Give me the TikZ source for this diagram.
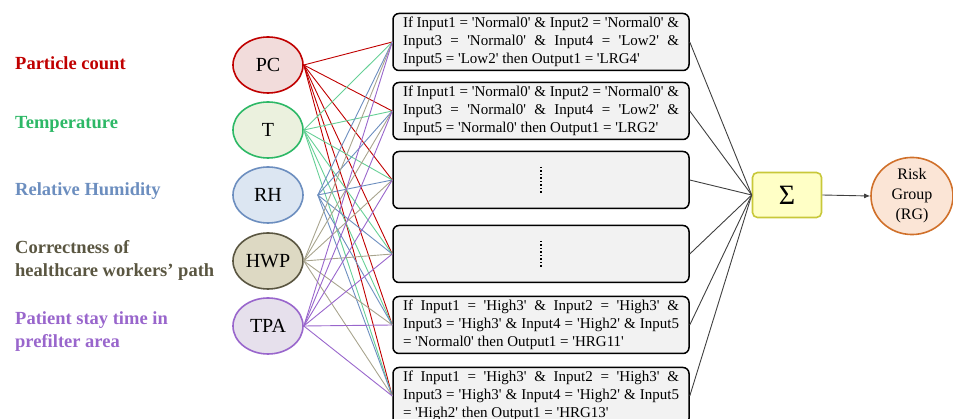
\documentclass[tikz,border=0pt]{standalone}
\usepackage{fontspec}
\setmainfont{Liberation Serif}
\newfontfamily\rulefont{Liberation Serif}[Ligatures=TeXOff]
\usetikzlibrary{shapes.geometric, arrows.meta}

\definecolor{pcred}{HTML}{C00000}
\definecolor{pcfill}{HTML}{F2DCDB}
\definecolor{tgreen}{HTML}{2DB866}
\definecolor{tedge}{HTML}{66D096}
\definecolor{tfill}{HTML}{EBF1DE}
\definecolor{rhblue}{HTML}{6C8EBF}
\definecolor{rhfill}{HTML}{DCE6F2}
\definecolor{hwpolive}{HTML}{5A5641}
\definecolor{hwpedge}{HTML}{A8A48E}
\definecolor{hwpfill}{HTML}{DDD9C3}
\definecolor{tpapurple}{HTML}{9966CC}
\definecolor{tpafill}{HTML}{E6E0EC}
\definecolor{boxgray}{HTML}{F2F2F2}
\definecolor{sumfill}{HTML}{FFFFC6}
\definecolor{sumline}{HTML}{C8C83A}
\definecolor{rgfill}{HTML}{FBE5D6}
\definecolor{rgline}{HTML}{D0702A}

\newcommand{\rulefmt}{\rulefont\fontsize{15}{18}\selectfont\tolerance=9999\hbadness=10000}

\begin{document}
\begin{tikzpicture}
        [x=1pt, y=-1pt,
        input/.style={ellipse, line width=1.6pt, minimum width=70pt, minimum height=56pt, inner sep=0pt, font=\fontsize{20}{24}\selectfont},
        factor/.style={anchor=west, align=left, inner sep=0pt, font=\bfseries\fontsize{18.5}{23}\selectfont},
        rulebox/.style={draw, line width=1.5pt, rounded corners=6pt, fill=boxgray, text width=276pt, inner xsep=10pt, inner ysep=0pt, minimum height=57pt, align=justify, font=\rulefmt},
        edge/.style={line width=0.9pt},
        sumedge/.style={line width=0.9pt, black!75}]

        \useasboundingbox (0,0) rectangle (953,419);

        % factor names
        \node[factor, text=pcred] (npc) at (15,63) {Particle count};
        \node[factor, text=tgreen] (nt) at (15,124) {Temperature};
        \node[factor, text=rhblue] (nrh) at (15,191) {Relative Humidity};
        \node[factor, text=hwpolive] (nhwp) at (15,260) {Correctness of\\healthcare workers’ path};
        \node[factor, text=tpapurple] (ntpa) at (15,332) {Patient stay time in\\prefilter area};

        % inputs
        \node[input, draw=pcred, fill=pcfill] (PC) at (268,65) {PC};
        \node[input, draw=tgreen, fill=tfill] (T) at (268,130) {T};
        \node[input, draw=rhblue, fill=rhfill] (RH) at (268,195) {RH};
        \node[input, draw=hwpolive, fill=hwpfill] (HWP) at (268,261) {HWP};
        \node[input, draw=tpapurple, fill=tpafill] (TPA) at (268,326) {TPA};
        \coordinate (rhs) at ([xshift=14pt]RH.east);

        % rules
        \node[rulebox] (r1) at (541,42) {If Input1 = 'Normal0' \& Input2 = 'Normal0' \&\linebreak Input3 = 'Normal0' \& Input4 = 'Low2' \&\linebreak Input5 = 'Low2' then Output1 = 'LRG4'};
        \node[rulebox] (r2) at (541,111) {If Input1 = 'Normal0' \& Input2 = 'Normal0' \&\linebreak Input3 = 'Normal0' \& Input4 = 'Low2' \&\linebreak Input5 = 'Normal0' then Output1 = 'LRG2'};
        \node[rulebox] (r3) at (541,180) {};
        \node[rulebox] (r4) at (541,254) {};
        \node[rulebox] (r5) at (541,325) {If Input1 = 'High3' \& Input2 = 'High3' \&\linebreak Input3 = 'High3' \& Input4 = 'High2' \& Input5\linebreak = 'Normal0' then Output1 = 'HRG11'};
        \node[rulebox] (r6) at (541,396) {If Input1 = 'High3' \& Input2 = 'High3' \&\linebreak Input3 = 'High3' \& Input4 = 'High2' \& Input5\linebreak = 'High2' then Output1 = 'HRG13'};

        % dots for the hidden rules
        \draw[dotted, line width=1.5pt] ([yshift=13pt]r3.center) -- ([yshift=-13pt]r3.center);
        \draw[dotted, line width=1.5pt] ([yshift=13pt]r4.center) -- ([yshift=-13pt]r4.center);

        % output side
        \node[draw=sumline, fill=sumfill, line width=1.6pt, rounded corners=5pt, minimum width=69pt, minimum height=45pt, font=\fontsize{28}{30}\selectfont] (sum) at (787,195) {Σ};
        \node[ellipse, draw=rgline, fill=rgfill, line width=1.6pt, minimum width=82pt, minimum height=68pt, inner sep=0pt, align=center, font=\fontsize{16}{20}\selectfont] (RG) at (912,196) {Risk\\Group\\(RG)};

        % edges from PC
        \draw[edge, pcred] (PC.east) -- (r1.west);
        \draw[edge, pcred] (PC.east) -- (r2.west);
        \draw[edge, pcred] (PC.east) -- (r3.west);
        \draw[edge, pcred] (PC.east) -- (r4.west);
        \draw[edge, pcred] (PC.east) -- (r5.west);
        \draw[edge, pcred] (PC.east) -- (r6.west);
        % edges from T
        \draw[edge, tedge] (T.east) -- (r1.west);
        \draw[edge, tedge] (T.east) -- (r2.west);
        \draw[edge, tedge] (T.east) -- (r3.west);
        \draw[edge, tedge] (T.east) -- (r4.west);
        \draw[edge, tedge] (T.east) -- (r5.west);
        \draw[edge, tedge] (T.east) -- (r6.west);
        % edges from RH
        \draw[edge, rhblue] (rhs) -- (r1.west);
        \draw[edge, rhblue] (rhs) -- (r2.west);
        \draw[edge, rhblue] (rhs) -- (r3.west);
        \draw[edge, rhblue] (rhs) -- (r4.west);
        \draw[edge, rhblue] (rhs) -- (r5.west);
        \draw[edge, rhblue] (rhs) -- (r6.west);
        % edges from HWP
        \draw[edge, hwpedge] (HWP.east) -- (r1.west);
        \draw[edge, hwpedge] (HWP.east) -- (r2.west);
        \draw[edge, hwpedge] (HWP.east) -- (r3.west);
        \draw[edge, hwpedge] (HWP.east) -- (r4.west);
        \draw[edge, hwpedge] (HWP.east) -- (r5.west);
        \draw[edge, hwpedge] (HWP.east) -- (r6.west);
        % edges from TPA
        \draw[edge, tpapurple] (TPA.east) -- (r1.west);
        \draw[edge, tpapurple] (TPA.east) -- (r2.west);
        \draw[edge, tpapurple] (TPA.east) -- (r3.west);
        \draw[edge, tpapurple] (TPA.east) -- (r4.west);
        \draw[edge, tpapurple] (TPA.east) -- (r5.west);
        \draw[edge, tpapurple] (TPA.east) -- (r6.west);

        % rules into the sum
        \draw[sumedge] (r1.east) -- (sum.west);
        \draw[sumedge] (r2.east) -- (sum.west);
        \draw[sumedge] (r3.east) -- (sum.west);
        \draw[sumedge] (r4.east) -- (sum.west);
        \draw[sumedge] (r5.east) -- (sum.west);
        \draw[sumedge] (r6.east) -- (sum.west);
        \draw[sumedge, -{Latex[length=6pt, width=5pt]}] (sum.east) -- (RG.west);

\end{tikzpicture}
\end{document}
